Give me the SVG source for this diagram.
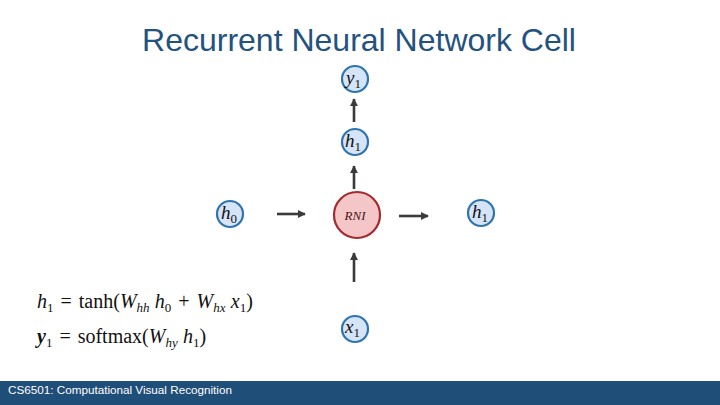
<svg xmlns="http://www.w3.org/2000/svg" width="720" height="405" viewBox="0 0 720 405">
<defs>
<style>
.title{font-family:"Liberation Sans",Arial,sans-serif;font-size:32px;fill:#24527e}
.node{fill:#d5e4f6;stroke:#2e74b0;stroke-width:2.2}
.rnn{fill:#f5c6c8;stroke:#a32a2e;stroke-width:2.2}
.lbl{font-family:"Liberation Serif","Times New Roman",serif;font-style:italic;font-size:19px;fill:#111}
.sub{font-size:13px;font-style:normal}
.rl{font-family:"Liberation Serif","Times New Roman",serif;font-style:italic;font-size:13px;fill:#4a1515}
.conn{stroke:#3a3a3a;stroke-width:2.6;fill:none}
.eq{font-family:"Liberation Serif","Times New Roman",serif;font-size:20px;fill:#111;word-spacing:2px}
.it{font-style:italic}
.foot{font-family:"Liberation Sans",Arial,sans-serif;font-size:11.7px;fill:#ffffff}
</style>
<marker id="ah" viewBox="0 0 10 10" refX="9" refY="5" markerWidth="3.2" markerHeight="3.2" orient="auto">
<path d="M0,0 L10,5 L0,10 z" fill="#3a3a3a"/>
</marker>
</defs>
<rect width="720" height="405" fill="#ffffff"/>
<text class="title" x="359" y="51" text-anchor="middle">Recurrent Neural Network Cell</text>

<g id="connectors">
<line class="conn" x1="354" y1="122" x2="354" y2="99" marker-end="url(#ah)"/>
<line class="conn" x1="354" y1="189" x2="354" y2="166" marker-end="url(#ah)"/>
<line class="conn" x1="277" y1="214" x2="305" y2="214" marker-end="url(#ah)"/>
<line class="conn" x1="399" y1="216" x2="428" y2="216" marker-end="url(#ah)"/>
<line class="conn" x1="354" y1="282" x2="354" y2="253" marker-end="url(#ah)"/>
</g>

<g id="node-y1">
<circle class="node" cx="355" cy="79" r="13"/>
<text class="lbl" x="346" y="84">y<tspan class="sub" dy="4">1</tspan></text>
</g>
<g id="node-h1-top">
<circle class="node" cx="355" cy="142" r="13"/>
<text class="lbl" x="345" y="147">h<tspan class="sub" dy="4">1</tspan></text>
</g>
<g id="node-h0">
<circle class="node" cx="230" cy="214" r="13"/>
<text class="lbl" x="221" y="219">h<tspan class="sub" dy="4">0</tspan></text>
</g>
<g id="node-rnn">
<circle class="rnn" cx="357" cy="215" r="23"/>
<text class="rl" x="355" y="220" text-anchor="middle">RNI</text>
</g>
<g id="node-h1-right">
<circle class="node" cx="481" cy="213" r="13"/>
<text class="lbl" x="472" y="218">h<tspan class="sub" dy="4">1</tspan></text>
</g>
<g id="node-x1">
<circle class="node" cx="355" cy="329" r="13"/>
<text class="lbl" x="345" y="333">x<tspan class="sub" dy="4">1</tspan></text>
</g>

<g id="equations">
<text class="eq" x="37" y="308"><tspan class="it">h</tspan><tspan font-size="13" dy="4">1</tspan><tspan dy="-4"> = tanh(</tspan><tspan class="it">W</tspan><tspan class="it" font-size="13" dy="4">hh </tspan><tspan class="it" dy="-4">h</tspan><tspan font-size="13" dy="4">0</tspan><tspan dy="-4"> + </tspan><tspan class="it">W</tspan><tspan class="it" font-size="13" dy="4">hx </tspan><tspan class="it" dy="-4">x</tspan><tspan font-size="13" dy="4">1</tspan><tspan dy="-4">)</tspan></text>
<text class="eq" x="37" y="343"><tspan class="it" font-weight="bold">y</tspan><tspan font-size="13" dy="4">1</tspan><tspan dy="-4"> = softmax(</tspan><tspan class="it">W</tspan><tspan class="it" font-size="13" dy="4">hy </tspan><tspan class="it" dy="-4">h</tspan><tspan font-size="13" dy="4">1</tspan><tspan dy="-4">)</tspan></text>
</g>

<rect x="0" y="381" width="720" height="24" fill="#1f4e79"/>
<text class="foot" x="8" y="394">CS6501: Computational Visual Recognition</text>
</svg>
